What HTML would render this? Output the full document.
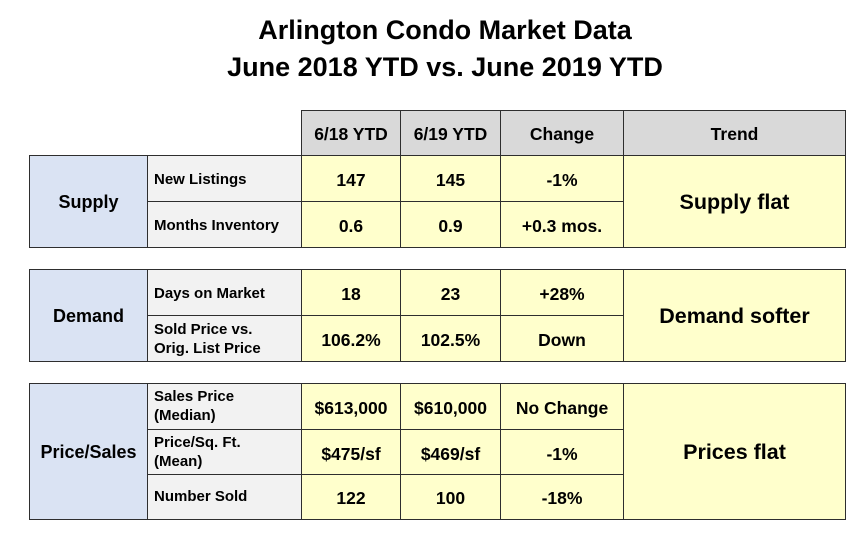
<!DOCTYPE html>
<html><head><meta charset="utf-8"><style>
body{margin:0;background:#fff;font-family:"Liberation Sans",Arial,sans-serif;}
#root{position:relative;width:862px;height:535px;overflow:hidden;background:#fff}
.t{position:absolute;left:0;width:890px;text-align:center;font-weight:bold;font-size:27px;color:#000}
.c{position:absolute;box-sizing:border-box;border:1.5px solid #2e2e2e;display:flex;align-items:center;justify-content:center;font-weight:bold;font-size:17.5px;color:#000;text-align:center;line-height:1.2;padding-top:3px}
.h{background:#d9d9d9}
.g{background:#dae3f3;font-size:18px}
.m{background:#f2f2f2;justify-content:flex-start;padding-left:6px;font-size:15px;text-align:left;line-height:1.25}
.v{background:#ffffcc}
.tr{background:#ffffcc;font-size:21.5px}
</style></head><body>
<div id="root">
<div class="t" style="top:15px">Arlington Condo Market Data</div>
<div class="t" style="top:52px">June 2018 YTD vs. June 2019 YTD</div>

<div class="c h" style="left:301px;top:110px;width:100px;height:46px">6/18 YTD</div>
<div class="c h" style="left:400px;top:110px;width:101px;height:46px">6/19 YTD</div>
<div class="c h" style="left:500px;top:110px;width:124px;height:46px">Change</div>
<div class="c h" style="left:623px;top:110px;width:223px;height:46px">Trend</div>

<!-- Supply -->
<div class="c g" style="left:29px;top:155px;width:119px;height:93px">Supply</div>
<div class="c m" style="left:147px;top:155px;width:155px;height:47px">New Listings</div>
<div class="c v" style="left:301px;top:155px;width:100px;height:47px">147</div>
<div class="c v" style="left:400px;top:155px;width:101px;height:47px">145</div>
<div class="c v" style="left:500px;top:155px;width:124px;height:47px">-1%</div>
<div class="c m" style="left:147px;top:201px;width:155px;height:47px">Months Inventory</div>
<div class="c v" style="left:301px;top:201px;width:100px;height:47px">0.6</div>
<div class="c v" style="left:400px;top:201px;width:101px;height:47px">0.9</div>
<div class="c v" style="left:500px;top:201px;width:124px;height:47px">+0.3 mos.</div>
<div class="c tr" style="left:623px;top:155px;width:223px;height:93px">Supply flat</div>

<!-- Demand -->
<div class="c g" style="left:29px;top:269px;width:119px;height:93px">Demand</div>
<div class="c m" style="left:147px;top:269px;width:155px;height:47px">Days on Market</div>
<div class="c v" style="left:301px;top:269px;width:100px;height:47px">18</div>
<div class="c v" style="left:400px;top:269px;width:101px;height:47px">23</div>
<div class="c v" style="left:500px;top:269px;width:124px;height:47px">+28%</div>
<div class="c m" style="left:147px;top:315px;width:155px;height:47px">Sold Price vs.<br>Orig. List Price</div>
<div class="c v" style="left:301px;top:315px;width:100px;height:47px">106.2%</div>
<div class="c v" style="left:400px;top:315px;width:101px;height:47px">102.5%</div>
<div class="c v" style="left:500px;top:315px;width:124px;height:47px">Down</div>
<div class="c tr" style="left:623px;top:269px;width:223px;height:93px">Demand softer</div>

<!-- Price/Sales -->
<div class="c g" style="left:29px;top:383px;width:119px;height:137px">Price/Sales</div>
<div class="c m" style="left:147px;top:383px;width:155px;height:47px;padding-top:0">Sales Price<br>(Median)</div>
<div class="c v" style="left:301px;top:383px;width:100px;height:47px">$613,000</div>
<div class="c v" style="left:400px;top:383px;width:101px;height:47px">$610,000</div>
<div class="c v" style="left:500px;top:383px;width:124px;height:47px">No Change</div>
<div class="c m" style="left:147px;top:429px;width:155px;height:47px;padding-top:0">Price/Sq. Ft.<br>(Mean)</div>
<div class="c v" style="left:301px;top:429px;width:100px;height:47px">$475/sf</div>
<div class="c v" style="left:400px;top:429px;width:101px;height:47px">$469/sf</div>
<div class="c v" style="left:500px;top:429px;width:124px;height:47px">-1%</div>
<div class="c m" style="left:147px;top:474px;width:155px;height:46px;align-items:flex-start;padding-top:13px">Number Sold</div>
<div class="c v" style="left:301px;top:474px;width:100px;height:46px">122</div>
<div class="c v" style="left:400px;top:474px;width:101px;height:46px">100</div>
<div class="c v" style="left:500px;top:474px;width:124px;height:46px">-18%</div>
<div class="c tr" style="left:623px;top:383px;width:223px;height:137px">Prices flat</div>
</div>
</body></html>
